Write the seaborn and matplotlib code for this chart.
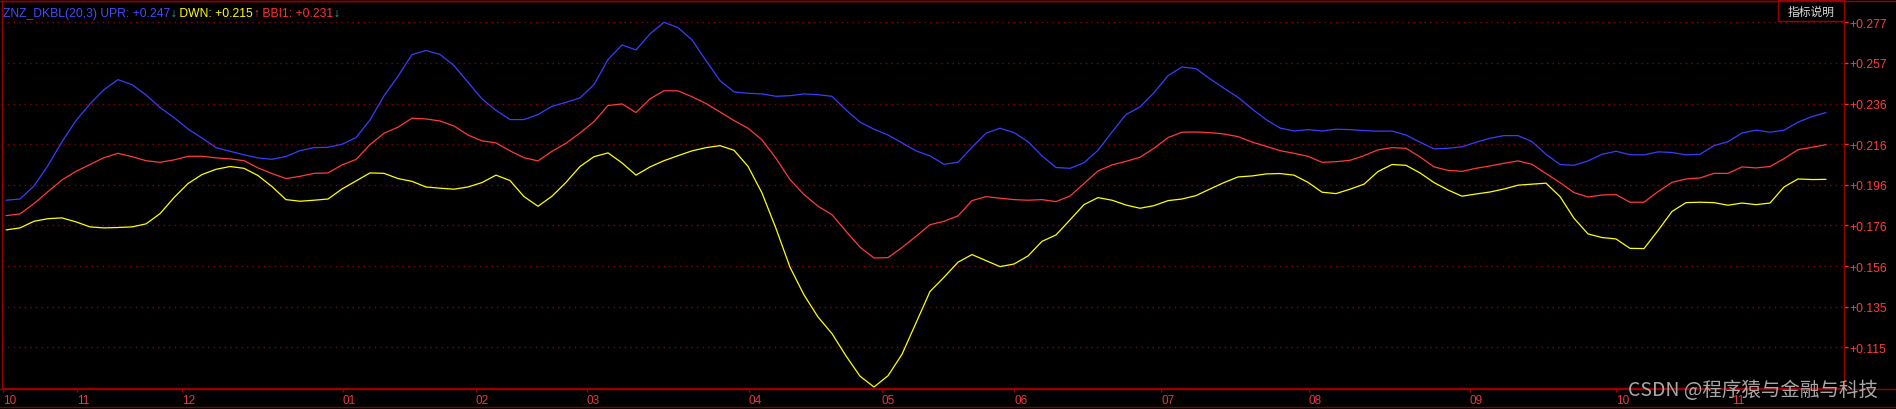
import numpy as np
import pandas as pd
import matplotlib
matplotlib.use("Agg")
import matplotlib.pyplot as plt
from matplotlib.lines import Line2D
from matplotlib.patches import Rectangle
import seaborn as sns

# indice do pregão (de 2 em 2)
bars = list(range(0, 261, 2))

upr = [0.1883, 0.1889, 0.1954, 0.2056, 0.2175, 0.2280, 0.2363, 0.2434, 0.2484, 0.2459,
       0.2408, 0.2345, 0.2295, 0.2238, 0.2193, 0.2145, 0.2127, 0.2109, 0.2094, 0.2087,
       0.2101, 0.2130, 0.2145, 0.2147, 0.2162, 0.2195, 0.2283, 0.2403, 0.2501, 0.2609,
       0.2629, 0.2610, 0.2554, 0.2471,
       0.2388, 0.2331, 0.2285, 0.2285, 0.2310, 0.2351, 0.2371, 0.2393, 0.2459, 0.2584,
       0.2657, 0.2632, 0.2712, 0.2770, 0.2743, 0.2682, 0.2579, 0.2479, 0.2423, 0.2416,
       0.2413, 0.2401, 0.2404, 0.2413, 0.2409, 0.2401, 0.2333, 0.2272, 0.2237, 0.2208,
       0.2169, 0.2129,
       0.2104, 0.2062, 0.2072, 0.2147, 0.2217, 0.2242, 0.2220, 0.2175, 0.2104, 0.2046,
       0.2042, 0.2070, 0.2132, 0.2223, 0.2310, 0.2348, 0.2419, 0.2504, 0.2547, 0.2539,
       0.2488, 0.2441, 0.2396, 0.2338, 0.2285, 0.2243, 0.2228, 0.2235, 0.2228, 0.2237,
       0.2235, 0.2230, 0.2227,
       0.2228, 0.2208, 0.2172, 0.2139, 0.2142, 0.2149, 0.2172, 0.2192, 0.2205, 0.2205,
       0.2175, 0.2112, 0.2061, 0.2057, 0.2079, 0.2112, 0.2127, 0.2110, 0.2109, 0.2124,
       0.2121, 0.2109, 0.2112, 0.2155, 0.2175, 0.2218, 0.2232, 0.2222, 0.2232, 0.2272,
       0.2300, 0.2320]

bbi1 = [0.1806, 0.1815, 0.1866, 0.1926, 0.1984, 0.2027, 0.2061, 0.2095, 0.2117, 0.2100,
        0.2080, 0.2072, 0.2084, 0.2102, 0.2102, 0.2094, 0.2089, 0.2080, 0.2044, 0.2016,
        0.1991, 0.2002, 0.2017, 0.2019, 0.2059, 0.2086, 0.2160, 0.2217, 0.2247, 0.2292,
        0.2288, 0.2278, 0.2253, 0.2208,
        0.2179, 0.2169, 0.2129, 0.2095, 0.2079, 0.2127, 0.2167, 0.2218, 0.2275, 0.2355,
        0.2363, 0.2320, 0.2388, 0.2429, 0.2428, 0.2399, 0.2365, 0.2323, 0.2280, 0.2242,
        0.2184, 0.2092, 0.1986, 0.1911, 0.1853, 0.1811, 0.1728, 0.1649, 0.1595, 0.1597,
        0.1647, 0.1703,
        0.1761, 0.1778, 0.1805, 0.1881, 0.1901, 0.1893, 0.1886, 0.1883, 0.1886, 0.1876,
        0.1904, 0.1966, 0.2029, 0.2059, 0.2077, 0.2097, 0.2142, 0.2195, 0.2222, 0.2223,
        0.2220, 0.2213, 0.2200, 0.2173, 0.2152, 0.2130, 0.2117, 0.2102, 0.2072, 0.2075,
        0.2082, 0.2105, 0.2134,
        0.2145, 0.2142, 0.2099, 0.2049, 0.2032, 0.2027, 0.2042, 0.2054, 0.2067, 0.2079,
        0.2062, 0.2016, 0.1971, 0.1921, 0.1899, 0.1909, 0.1911, 0.1873, 0.1873, 0.1926,
        0.1972, 0.1989, 0.1994, 0.2017, 0.2017, 0.2049, 0.2044, 0.2051, 0.2090, 0.2135,
        0.2147, 0.2160]

dwn = [0.1735, 0.1745, 0.1778, 0.1791, 0.1795, 0.1775, 0.1750, 0.1745, 0.1747, 0.1750,
       0.1765, 0.1816, 0.1896, 0.1966, 0.2011, 0.2037, 0.2051, 0.2042, 0.2006, 0.1951,
       0.1886, 0.1878, 0.1883, 0.1889, 0.1939, 0.1979, 0.2019, 0.2017, 0.1991, 0.1977,
       0.1949, 0.1943, 0.1938, 0.1949,
       0.1971, 0.2008, 0.1981, 0.1901, 0.1853, 0.1903, 0.1972, 0.2051, 0.2100, 0.2119,
       0.2069, 0.2008, 0.2049, 0.2080, 0.2105, 0.2129, 0.2145, 0.2155, 0.2132, 0.2052,
       0.1919, 0.1742, 0.1549, 0.1411, 0.1301, 0.1218, 0.1107, 0.1006, 0.0952, 0.1008,
       0.1115, 0.1271,
       0.1428, 0.1499, 0.1574, 0.1612, 0.1582, 0.1552, 0.1565, 0.1605, 0.1678, 0.1710,
       0.1785, 0.1861, 0.1896, 0.1883, 0.1859, 0.1843, 0.1856, 0.1881, 0.1889, 0.1906,
       0.1939, 0.1971, 0.1999, 0.2004, 0.2014, 0.2016, 0.2008, 0.1972, 0.1923, 0.1916,
       0.1938, 0.1963, 0.2026,
       0.2061, 0.2057, 0.2019, 0.1971, 0.1934, 0.1903, 0.1914, 0.1924, 0.1939, 0.1958,
       0.1963, 0.1968, 0.1901, 0.1793, 0.1715, 0.1697, 0.1690, 0.1643, 0.1642, 0.1732,
       0.1827, 0.1871, 0.1873, 0.1871, 0.1858, 0.1869, 0.1861, 0.1869, 0.1949, 0.1989,
       0.1986, 0.1987]

# eixo x: inicio de cada mes (indice do pregao)
month_pos = [-0.4, 10.1, 25.1, 48.1, 67.1, 83.0, 106.1, 125.1, 144.0, 165.0, 186.1, 209.1, 230.0, 246.6]
month_labels = ["10", "11", "12", "01", "02", "03", "04", "05", "06", "07", "08", "09", "10", "11"]

y_ticks = [0.115, 0.1353, 0.1555, 0.1758, 0.196, 0.2163, 0.2365, 0.2568, 0.277]
y_labels = ["+0.115", "+0.135", "+0.156", "+0.176", "+0.196", "+0.216", "+0.236", "+0.257", "+0.277"]

header = [("ZNZ_DKBL(20,3) UPR: +0.247", "#4848ff"),
          ("\u2193", "#10c0c8"),
          (" DWN: +0.215", "#ffff00"),
          ("\u2191", "#ff3030"),
          (" BBI1: +0.231", "#ff3030"),
          ("\u2193", "#10c0c8")]

df = pd.DataFrame({"bar": bars, "UPR": upr, "BBI1": bbi1, "DWN": dwn})

sns.set_theme(style="dark", rc={"axes.facecolor": "black", "figure.facecolor": "black"})
plt.rcParams["font.family"] = ["Liberation Sans", "Noto Sans CJK SC", "DejaVu Sans"]

W, H = 1896, 410
fig = plt.figure(figsize=(W / 100, H / 100), dpi=100, facecolor="black")
ax = fig.add_axes([2 / W, 1 - 389 / H, (1844 - 2) / W, (389 - 2) / H])
ax.set_facecolor("black")

borda = "#9a0000"

for col, cor in [("UPR", "#3c3cff"), ("BBI1", "#ff3a3a"), ("DWN", "#ffff00")]:
    sns.lineplot(data=df, x="bar", y=col, color=cor, linewidth=0.9, ax=ax)

ax.set_xlim(-0.57, 262.57)
ax.set_ylim(0.0947, 0.2876)
ax.set_xlabel("")
ax.set_ylabel("")

# eixo y a direita
ax.yaxis.tick_right()
ax.set_yticks(y_ticks)
ax.set_yticklabels(y_labels)
ax.tick_params(axis="y", which="major", length=3, width=1, color="#ff3030",
               labelcolor="#ff3c3c", labelsize=8.7, pad=1, direction="out", right=True, left=False)
ax.yaxis.grid(True, color="#8c0000", linestyle=(0, (1, 3)), linewidth=1)
ax.xaxis.grid(False)

ax.set_xticks(month_pos)
ax.set_xticklabels(month_labels, ha="left")
ax.tick_params(axis="x", which="major", length=3, width=1, color="#a00000",
               labelcolor="#e83a3a", labelsize=8.5, pad=1, direction="out", bottom=True)

for s in ax.spines.values():
    s.set_color(borda)
    s.set_linewidth(1)

# linhas de moldura da janela
fig.add_artist(Line2D([0, 1], [1 - 389.5 / H, 1 - 389.5 / H], color=borda, lw=1))
fig.add_artist(Line2D([0, 1], [1 - 1.5 / H, 1 - 1.5 / H], color=borda, lw=1))
fig.add_artist(Line2D([0, 1], [1 - 407.5 / H, 1 - 407.5 / H], color="#7a0000", lw=1))

# cabecalho do indicador
t = fig.text(3 / W, 1 - 20 / H, header[0][0], color=header[0][1], fontsize=8.7,
             ha="left", va="bottom")
for txt, cor in header[1:]:
    t = ax.annotate(txt, xy=(1, 0), xycoords=t, color=cor, fontsize=8.7,
                    ha="left", va="bottom", annotation_clip=False)

# botao "指标说明"
fig.add_artist(Rectangle((1778 / W, 1 - 22 / H), (1844 - 1778) / W, 21 / H,
                         transform=fig.transFigure, facecolor="black",
                         edgecolor=borda, lw=1))
fig.text(1811 / W, 1 - 12 / H, "指标说明", color="#d8d8d8", fontsize=8.5,
         ha="center", va="center", family=["Noto Sans CJK SC", "DejaVu Sans"])

# marca d'agua
fig.text(1878 / W, 1 - 391 / H, "CSDN @程序猿与金融与科技", color="#a8a8a8", fontsize=14,
         ha="right", va="center", family=["Noto Sans CJK SC", "DejaVu Sans"])

fig.savefig("out.png", dpi=100, facecolor="black")
